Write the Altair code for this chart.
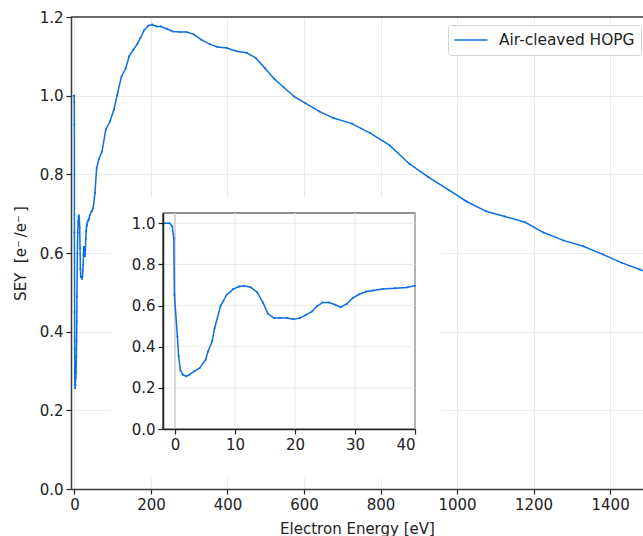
import altair as alt
import pandas as pd

# ---------------- data ----------------
energy_low = [-2.0, -0.9, -0.45, -0.2, -0.1, 0.4, 0.6, 0.9, 1.3, 1.9, 2.4, 3.3, 4.1, 5.1,
              5.5, 6.2, 6.6, 7.6, 8.6, 9.7, 10.7, 11.5, 12.6, 13.7, 14.7, 15.5, 16.5,
              17.5, 18.7, 19.7, 20.8, 21.8, 22.8, 23.6, 24.6, 25.7, 26.7, 27.6, 28.6,
              29.6, 30.7, 31.9, 33.0, 34.6, 36.7, 38.6, 40.0]
sey_low = [1.0, 1.0, 0.984, 0.927, 0.652, 0.45, 0.356, 0.285, 0.264, 0.256, 0.264, 0.283,
           0.296, 0.337, 0.377, 0.426, 0.49, 0.599, 0.652, 0.68, 0.693, 0.696, 0.689,
           0.665, 0.612, 0.56, 0.539, 0.539, 0.539, 0.534, 0.539, 0.555, 0.571, 0.595,
           0.615, 0.615, 0.604, 0.592, 0.608, 0.636, 0.655, 0.668, 0.673, 0.68, 0.684,
           0.688, 0.696]
energy_high = [45, 49, 53.6, 58, 64, 72, 82, 93, 103, 112, 123, 134, 143, 154, 164, 173,
               182, 193, 203, 215, 226, 241, 257, 276, 293, 312, 332, 354, 374, 398, 424,
               450, 474, 498, 522, 546, 574, 603, 640, 677, 725, 773, 825, 875, 925, 977,
               1025, 1076, 1125, 1178, 1226, 1278, 1330, 1382, 1431, 1478, 1500]
sey_high = [0.706, 0.714, 0.753, 0.816, 0.839, 0.858, 0.914, 0.935, 0.964, 1.003, 1.049,
            1.069, 1.10, 1.117, 1.131, 1.148, 1.166, 1.178, 1.181, 1.176, 1.176, 1.170,
            1.163, 1.162, 1.162, 1.156, 1.142, 1.131, 1.124, 1.121, 1.113, 1.109, 1.096,
            1.070, 1.043, 1.022, 0.998, 0.981, 0.960, 0.943, 0.929, 0.905, 0.873, 0.827,
            0.793, 0.761, 0.731, 0.706, 0.693, 0.678, 0.652, 0.632, 0.617, 0.596, 0.575,
            0.558, 0.549]
series_name = "Air-cleaved HOPG"

main_x_ticks = [0, 200, 400, 600, 800, 1000, 1200, 1400]
main_y_ticks = [0.0, 0.2, 0.4, 0.6, 0.8, 1.0, 1.2]
inset_x_ticks = [0, 10, 20, 30, 40]
inset_y_ticks = [0.0, 0.2, 0.4, 0.6, 0.8, 1.0]
inset_x_domain = [-2, 40]
inset_y_domain = [0, 1.05]

df = pd.DataFrame({"energy": energy_low + energy_high,
                   "sey": sey_low + sey_high,
                   "series": series_name})
inset_df = pd.DataFrame({"energy": energy_low, "sey": sey_low})
zero_df = pd.DataFrame({"energy": [0.0], "sey": [inset_y_domain[0]], "hi": [inset_y_domain[1]]})
vgrid_df = pd.DataFrame({"energy": inset_x_ticks,
                         "sey": [inset_y_domain[0]] * len(inset_x_ticks),
                         "hi": [inset_y_domain[1]] * len(inset_x_ticks)})
hgrid_df = pd.DataFrame({"sey": inset_y_ticks,
                         "energy": [inset_x_domain[0]] * len(inset_y_ticks),
                         "hi": [inset_x_domain[1]] * len(inset_y_ticks)})

BLUE = "#0a6fe6"
FONT = "DejaVu Sans"
W, H = 572, 472
GRID = "#ebebeb"

# ---------------- main panel ----------------
main = alt.Chart(df).mark_line(
    strokeWidth=1.5, point=alt.OverlayMarkDef(size=4, filled=True)
).encode(
    x=alt.X("energy:Q",
            scale=alt.Scale(domain=[-9, 1486], nice=False, zero=False),
            axis=alt.Axis(values=main_x_ticks, format="d", title="Electron Energy [eV]",
                          grid=True, gridColor=GRID, titlePadding=9)),
    y=alt.Y("sey:Q",
            scale=alt.Scale(domain=[0, 1.2], nice=False),
            axis=alt.Axis(values=main_y_ticks, format=".1f",
                          title="SEY\u00a0\u00a0[e\u207b\u2009/e\u207b\u2009]",
                          grid=True, gridColor=GRID, titlePadding=11)),
    color=alt.Color("series:N", scale=alt.Scale(range=[BLUE]),
                    legend=alt.Legend(title=None, orient="none", legendX=377, legendY=8,
                                      symbolType="M-2,0H2", symbolSize=272,
                                      symbolOffset=8,
                                      symbolStrokeWidth=1.5, labelFontSize=15.4,
                                      labelOffset=19, padding=6,
                                      strokeColor="#d4d4d4", fillColor="white",
                                      cornerRadius=3)),
)

blank = alt.Data(values=[{}])
white_bg = alt.Chart(blank).mark_rect(color="white").encode(
    x=alt.value(40), x2=alt.value(370), y=alt.value(180), y2=alt.value(461))
top_spine = alt.Chart(blank).mark_rule(color="#3a3a3a", strokeWidth=1.5).encode(
    x=alt.value(0), x2=alt.value(W), y=alt.value(0))
inset_box = alt.Chart(blank).mark_rect(fillOpacity=0, stroke="#222222", strokeWidth=1.2).encode(
    x=alt.value(92), x2=alt.value(344), y=alt.value(196), y2=alt.value(412))

# ---------------- inset panel ----------------
ix = alt.Scale(domain=inset_x_domain, range=[92, 344], nice=False, zero=False)
iy = alt.Scale(domain=inset_y_domain, range=[412, 196], nice=False, zero=False)
inset_x_axis = alt.Axis(values=inset_x_ticks, format="d", title="", orient="bottom",
                        offset=-(H - 412), grid=False, zindex=1,
                        domainColor="#222222")
inset_y_axis = alt.Axis(values=inset_y_ticks, format=".1f", title="", orient="left",
                        offset=-92, grid=False, zindex=1,
                        domainColor="#222222")

vgrid = alt.Chart(vgrid_df).mark_rule(color=GRID, strokeWidth=1).encode(
    x=alt.X("energy:Q", scale=ix, axis=inset_x_axis),
    y=alt.Y("sey:Q", scale=iy, axis=inset_y_axis),
    y2="hi:Q")
hgrid = alt.Chart(hgrid_df).mark_rule(color=GRID, strokeWidth=1).encode(
    x=alt.X("energy:Q", scale=ix, axis=inset_x_axis),
    x2="hi:Q",
    y=alt.Y("sey:Q", scale=iy, axis=inset_y_axis))
zero_line = alt.Chart(zero_df).mark_rule(color="#c8c8c8", strokeWidth=1.3).encode(
    x=alt.X("energy:Q", scale=ix, axis=inset_x_axis),
    y=alt.Y("sey:Q", scale=iy, axis=inset_y_axis),
    y2="hi:Q")

inset_line = alt.Chart(inset_df).mark_line(
    strokeWidth=1.5, color=BLUE, point=alt.OverlayMarkDef(size=4, filled=True, color=BLUE)
).encode(
    x=alt.X("energy:Q", scale=ix, axis=inset_x_axis),
    y=alt.Y("sey:Q", scale=iy, axis=inset_y_axis),
)
inset = alt.layer(vgrid, hgrid, zero_line, inset_line)

chart = alt.layer(main, white_bg, top_spine, inset_box, inset).resolve_scale(
    x="independent", y="independent"
).properties(
    width=W, height=H,
    autosize=alt.AutoSizeParams(type="none"),
    padding={"left": 71, "top": 17, "right": 0, "bottom": 47},
).configure(
    font=FONT,
).configure_view(
    stroke=None,
).configure_axis(
    labelFont=FONT, titleFont=FONT, labelFontSize=15, titleFontSize=15,
    labelColor="#222222", titleColor="#222222", titleFontWeight="normal",
    domainColor="#3a3a3a", domainWidth=1.5, tickColor="#222222", tickSize=5,
    tickWidth=1.2, labelPadding=3, gridWidth=1,
).configure_legend(
    labelFont=FONT, labelColor="#222222",
)

chart.save("out.html", embed_options={"renderer": "svg", "actions": False})
